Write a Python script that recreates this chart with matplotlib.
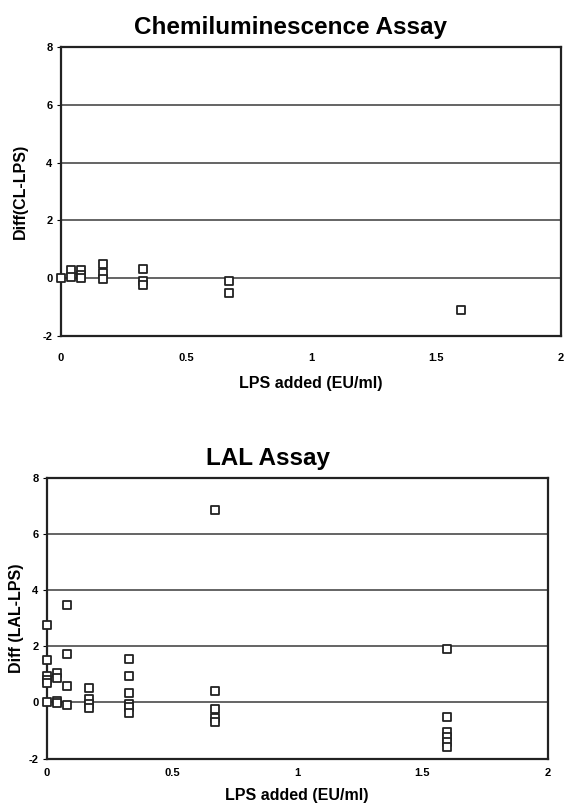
import matplotlib
matplotlib.use("Agg")
from matplotlib import pyplot as plt

plt.rcParams['font.family'] = ['Liberation Sans', 'DejaVu Sans']
plt.rcParams['font.weight'] = 'bold'

# Chemiluminescence assay: LPS added vs difference (CL - LPS)
cl_x = [0, 0.04, 0.04, 0.08, 0.08, 0.08, 0.17, 0.17, 0.17,
        0.33, 0.33, 0.33, 0.67, 0.67, 1.6]
cl_y = [0.0, 0.27, 0.05, 0.27, 0.12, 0.0, 0.49, 0.19, -0.02,
        0.33, -0.08, -0.23, -0.08, -0.51, -1.09]

# LAL assay: LPS added vs difference (LAL - LPS)
lal_x = [0, 0, 0, 0, 0, 0,
         0.04, 0.04, 0.04, 0.04,
         0.08, 0.08, 0.08, 0.08,
         0.17, 0.17, 0.17, 0.17,
         0.33, 0.33, 0.33, 0.33, 0.33, 0.33,
         0.67, 0.67, 0.67, 0.67, 0.67,
         1.6, 1.6, 1.6, 1.6, 1.6, 1.6]
lal_y = [2.75, 1.52, 0.95, 0.8, 0.68, 0.02,
         1.05, 0.87, 0.06, -0.02,
         3.45, 1.73, 0.6, -0.08,
         0.51, 0.12, -0.06, -0.18,
         1.56, 0.93, 0.33, -0.05, -0.17, -0.36,
         6.83, 0.42, -0.23, -0.55, -0.7,
         1.9, -0.5, -1.05, -1.22, -1.4, -1.58]

x_ticks = [0, 0.5, 1, 1.5, 2]
x_tick_labels = ['0', '0.5', '1', '1.5', '2']
y_ticks = [-2, 0, 2, 4, 6, 8]
y_tick_labels = ['-2', '0', '2', '4', '6', '8']


def style_axes(ax, title, title_x, ylabel, ylabel_x, xlabel_y, xpad):
    ax.set_xlim(0, 2)
    ax.set_ylim(-2, 8)
    ax.set_xticks(x_ticks)
    ax.set_xticklabels(x_tick_labels)
    ax.set_yticks(y_ticks)
    ax.set_yticklabels(y_tick_labels)
    for y in [0, 2, 4, 6]:
        ax.axhline(y, color='#4a4a4a', linewidth=1.2, zorder=1)
    for s in ax.spines.values():
        s.set_linewidth(1.6)
        s.set_color('#222222')
    ax.tick_params(axis='x', length=0, pad=xpad, labelsize=8)
    ax.tick_params(axis='y', length=3, pad=3, labelsize=8)
    ax.set_title(title, fontsize=17.5, fontweight='bold', x=title_x, pad=9)
    ax.set_xlabel('LPS added (EU/ml)', fontsize=11.5, fontweight='bold')
    ax.xaxis.set_label_coords(0.5, xlabel_y)
    ax.set_ylabel(ylabel, fontsize=11.5, fontweight='bold')
    ax.yaxis.set_label_coords(ylabel_x, 0.5)


fig = plt.figure(figsize=(5.64, 8.08), dpi=100)

ax1 = fig.add_axes([0.108, 0.584, 0.887, 0.358])
ax1.scatter(cl_x, cl_y, marker='s', s=30, facecolors='white',
            edgecolors='#222222', linewidths=1.3, zorder=3, clip_on=False)
style_axes(ax1, 'Chemiluminescence Assay', 0.458, 'Diff(CL-LPS)', -0.066, -0.138, 12)

ax2 = fig.add_axes([0.083, 0.061, 0.888, 0.348])
ax2.scatter(lal_x, lal_y, marker='s', s=30, facecolors='white',
            edgecolors='#222222', linewidths=1.3, zorder=3, clip_on=False)
style_axes(ax2, 'LAL Assay', 0.441, 'Diff (LAL-LPS)', -0.046, -0.105, 7)

fig.savefig('out.png', dpi=100)
